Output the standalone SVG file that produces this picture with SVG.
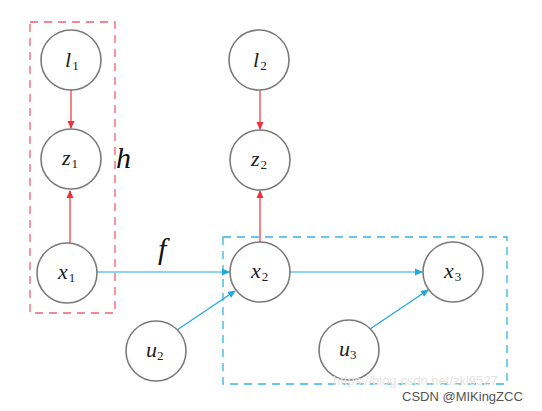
<svg xmlns="http://www.w3.org/2000/svg" width="542" height="411" viewBox="0 0 542 411">
<defs>
<marker id="ar" markerWidth="8" markerHeight="8" refX="7" refY="4" orient="auto" markerUnits="userSpaceOnUse"><path d="M0,0.5 L8,4 L0,7.5 Z" fill="#f0303a"/></marker>
<marker id="ab" markerWidth="8" markerHeight="8" refX="7" refY="4" orient="auto" markerUnits="userSpaceOnUse"><path d="M0,0.5 L8,4 L0,7.5 Z" fill="#1ea7e1"/></marker>
<style>
.n{fill:#fff;stroke:#7a7a7a;stroke-width:1.6}
.t{font-family:"Liberation Serif","DejaVu Serif",serif;font-style:italic;font-size:22px;fill:#222}
.s{font-family:"Liberation Serif","DejaVu Serif",serif;font-size:13px;fill:#222;font-style:normal}
.r{stroke:#f0303a;stroke-width:1.2;fill:none}
.b{stroke:#1ea7e1;stroke-width:1.2;fill:none}
.lab{font-family:"Liberation Serif","DejaVu Serif",serif;font-style:italic;font-size:30px;fill:#111}
.wm{font-family:"Liberation Sans",sans-serif}
</style>
</defs>
<rect width="542" height="411" fill="#fff"/>
<rect x="30" y="22" width="85" height="291" fill="none" stroke="#f06070" stroke-width="1.3" stroke-dasharray="8,6"/>
<rect x="223" y="237" width="284" height="147" fill="none" stroke="#33b5e5" stroke-width="1.3" stroke-dasharray="8,6"/>
<g id="connectors">
<line class="r" x1="71" y1="90" x2="71" y2="128" marker-end="url(#ar)"/>
<line class="r" x1="70" y1="243" x2="70" y2="191" marker-end="url(#ar)"/>
<line class="r" x1="260" y1="90" x2="260" y2="129" marker-end="url(#ar)"/>
<line class="r" x1="260" y1="242" x2="260" y2="191" marker-end="url(#ar)"/>
<line class="b" x1="97" y1="272" x2="229" y2="272" marker-end="url(#ab)"/>
<line class="b" x1="290" y1="272" x2="422" y2="272" marker-end="url(#ab)"/>
<line class="b" x1="177" y1="330" x2="235" y2="291" marker-end="url(#ab)"/>
<line class="b" x1="370" y1="329" x2="428" y2="290" marker-end="url(#ab)"/>
</g>
<g id="l1"><circle class="n" cx="71" cy="60" r="30"/><text class="t" x="65" y="67">l<tspan class="s" dx="1" dy="3">1</tspan></text></g>
<g id="z1"><circle class="n" cx="71" cy="159" r="30"/><text class="t" x="62" y="165">z<tspan class="s" dx="1" dy="3">1</tspan></text></g>
<g id="x1"><circle class="n" cx="67" cy="273" r="30"/><text class="t" x="58" y="279">x<tspan class="s" dx="1" dy="3">1</tspan></text></g>
<g id="l2"><circle class="n" cx="259" cy="60" r="30"/><text class="t" x="253" y="67">l<tspan class="s" dx="1" dy="3">2</tspan></text></g>
<g id="z2"><circle class="n" cx="260" cy="160" r="30"/><text class="t" x="251" y="166">z<tspan class="s" dx="1" dy="3">2</tspan></text></g>
<g id="x2"><circle class="n" cx="260" cy="272" r="30"/><text class="t" x="251" y="278">x<tspan class="s" dx="1" dy="3">2</tspan></text></g>
<g id="x3"><circle class="n" cx="453" cy="272" r="30"/><text class="t" x="444" y="278">x<tspan class="s" dx="1" dy="3">3</tspan></text></g>
<g id="u2"><circle class="n" cx="156" cy="351" r="30"/><text class="t" x="146" y="357">u<tspan class="s" dx="0" dy="3">2</tspan></text></g>
<g id="u3"><circle class="n" cx="349" cy="350" r="30"/><text class="t" x="339" y="356">u<tspan class="s" dx="0" dy="3">3</tspan></text></g>
<text class="lab" x="116" y="168">h</text>
<text class="lab" x="158" y="259">f</text>
<text class="wm" x="333" y="385" font-size="13" fill="#e4e4e4">https://blog.csdn.net/zkl9527</text>
<text class="wm" x="402" y="401" font-size="13" fill="#555">CSDN @MIKingZCC</text>
</svg>
